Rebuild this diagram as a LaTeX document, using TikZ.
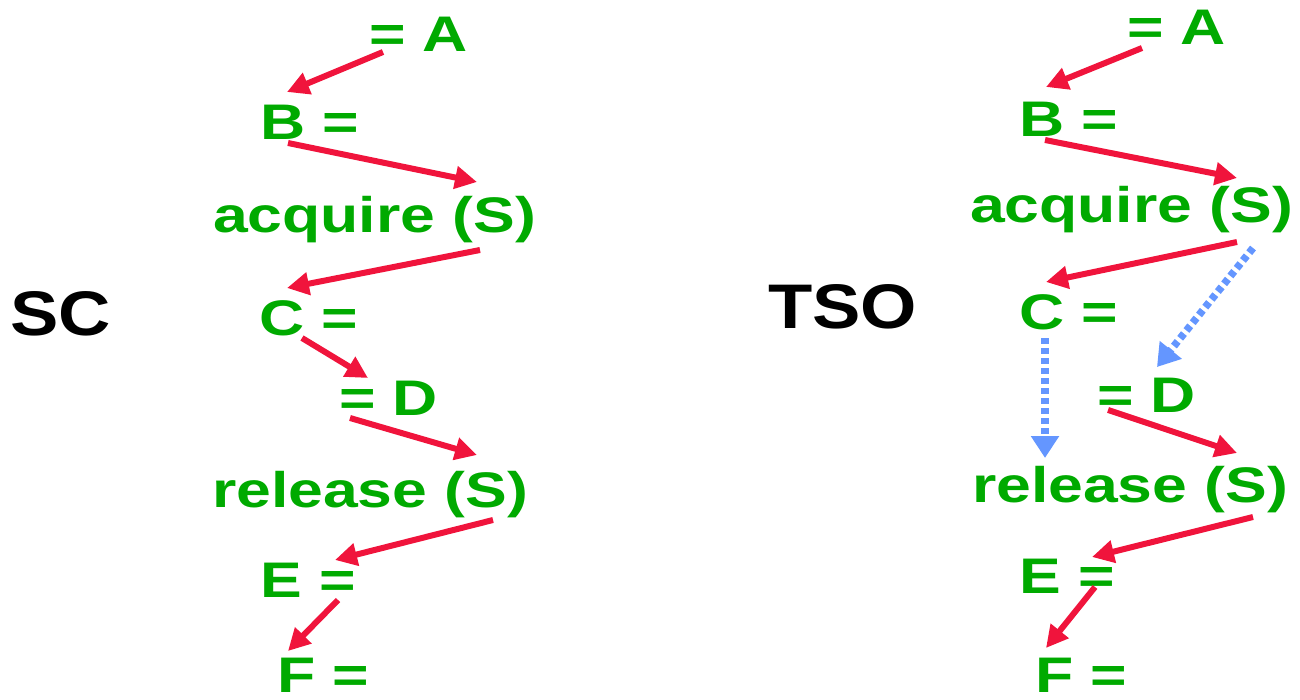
\documentclass[tikz,border=0pt]{standalone}
\usepackage{fontspec}
\usepackage{graphicx}
\setmainfont{Liberation Sans}
\usetikzlibrary{arrows.meta,calc}
\definecolor{txtgreen}{RGB}{0,170,0}
\definecolor{arrred}{RGB}{240,20,60}
\definecolor{arrblue}{RGB}{100,150,255}
\tikzset{
  lbl/.style={anchor=base west,inner sep=0pt,outer sep=0pt,text=txtgreen,
    font=\fontsize{50}{60}\selectfont\bfseries},
  ttl/.style={anchor=base west,inner sep=0pt,outer sep=0pt,text=black,
    font=\fontsize{63}{70}\selectfont\bfseries},
  redarr/.style={draw=arrred,line width=6pt,-{Triangle[length=22pt,width=22pt]}},
  bluearr/.style={draw=arrblue,line width=7.5pt,dash pattern=on 6pt off 4pt,
    -{Triangle[length=22pt,width=27pt]}}
}
\newcommand{\gtxt}[1]{\scalebox{1.25}[1]{#1}}
\newcommand{\btxt}[1]{\scalebox{1.15}[1]{#1}}
\begin{document}
\begin{tikzpicture}[x=1pt,y=-1pt]
\useasboundingbox (0,0) rectangle (1300,700);
% titles
\node[ttl] (sc) at (10,335) {\btxt{SC}};
\node[ttl] (tso) at (768,328) {\btxt{TSO}};
% left column
\node[lbl] (lA) at (369,52) {\gtxt{= A}};
\node[lbl] (lB) at (260,140) {\gtxt{B =}};
\node[lbl] (lQ) at (213,233) {\gtxt{acquire (S)}};
\node[lbl] (lC) at (259,335) {\gtxt{C =}};
\node[lbl] (lD) at (339,415) {\gtxt{= D}};
\node[lbl] (lR) at (212,507) {\gtxt{release (S)}};
\node[lbl] (lE) at (260,597) {\gtxt{E =}};
\node[lbl] (lF) at (277,692) {\gtxt{F =}};
% right column
\node[lbl] (rA) at (1127,45) {\gtxt{= A}};
\node[lbl] (rB) at (1019,137) {\gtxt{B =}};
\node[lbl] (rQ) at (970,223) {\gtxt{acquire (S)}};
\node[lbl] (rC) at (1019,330) {\gtxt{C =}};
\node[lbl] (rD) at (1097,412) {\gtxt{= D}};
\node[lbl] (rR) at (972,502) {\gtxt{release (S)}};
\node[lbl] (rE) at (1019,593) {\gtxt{E =}};
\node[lbl] (rF) at (1035,692) {\gtxt{F =}};
% left arrows
\draw[redarr] ($(lA.base west)+(14,0)$) -- ($(lB.base west)+(27,-48)$);
\draw[redarr] ($(lB.base west)+(28,3)$) -- ($(lQ.base west)+(264,-51)$);
\draw[redarr] ($(lQ.base west)+(267,17)$) -- ($(lC.base west)+(28,-47)$);
\draw[redarr] ($(lC.base west)+(43,3)$) -- ($(lD.base west)+(29,-37)$);
\draw[redarr] ($(lD.base west)+(11,3)$) -- ($(lR.base west)+(265,-52)$);
\draw[redarr] ($(lR.base west)+(281,13)$) -- ($(lE.base west)+(75,-37)$);
\draw[redarr] ($(lE.base west)+(78,3)$) -- ($(lF.base west)+(11,-41)$);
% right arrows
\draw[redarr] ($(rA.base west)+(15,3)$) -- ($(rB.base west)+(27,-50)$);
\draw[redarr] ($(rB.base west)+(26,3)$) -- ($(rQ.base west)+(267,-45)$);
\draw[redarr] ($(rQ.base west)+(267,19)$) -- ($(rC.base west)+(27,-48)$);
\draw[bluearr] ($(rQ.base west)+(283,25)$) -- ($(rD.base west)+(60,-45)$);
\draw[bluearr] ($(rC.base west)+(26,8)$) -- ($(rR.base west)+(73,-44)$);
\draw[redarr] ($(rD.base west)+(11,-2)$) -- ($(rR.base west)+(265,-49)$);
\draw[redarr] ($(rR.base west)+(281,15)$) -- ($(rE.base west)+(73,-36)$);
\draw[redarr] ($(rE.base west)+(76,-6)$) -- ($(rF.base west)+(11,-44)$);
\end{tikzpicture}
\end{document}
